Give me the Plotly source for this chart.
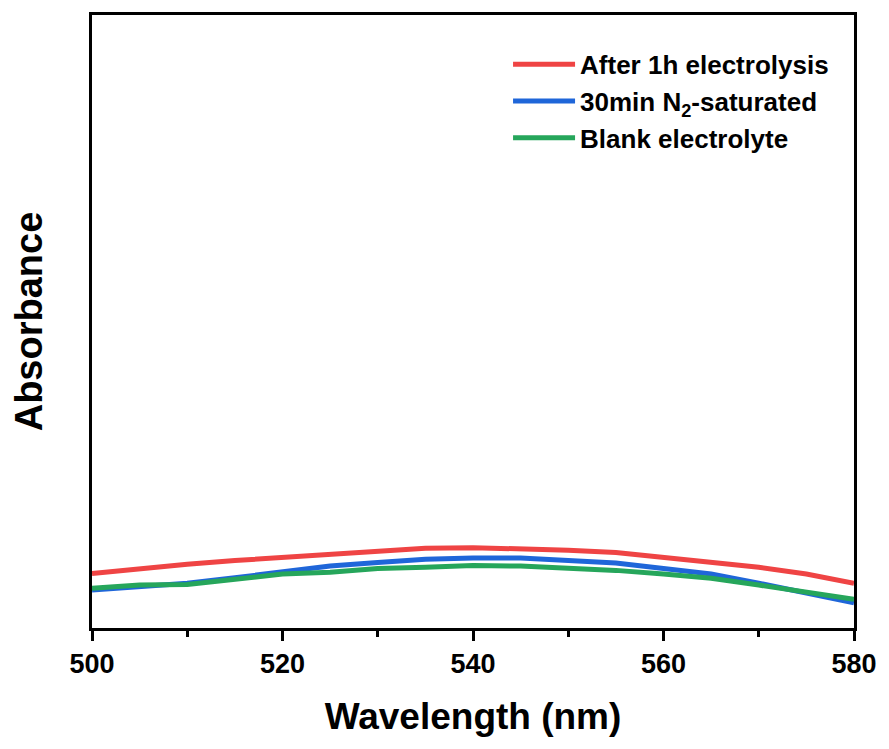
import plotly.graph_objects as go

wavelength = [500, 505, 510, 515, 520, 525, 530, 535, 540, 545, 550, 555, 560, 565, 570, 575, 580]
after_1h = [0.089, 0.097, 0.104, 0.110, 0.115, 0.122, 0.127, 0.130, 0.131, 0.130, 0.127, 0.123, 0.115, 0.109, 0.099, 0.088, 0.073]
n2_30min = [0.062, 0.067, 0.073, 0.082, 0.092, 0.101, 0.107, 0.112, 0.114, 0.114, 0.110, 0.106, 0.097, 0.088, 0.073, 0.058, 0.041]
blank = [0.065, 0.070, 0.071, 0.080, 0.088, 0.091, 0.097, 0.099, 0.102, 0.101, 0.098, 0.094, 0.088, 0.081, 0.070, 0.058, 0.047]

series = [
    ("After 1h electrolysis", after_1h, "#EF4444"),
    ("30min N<sub>2</sub>-saturated", n2_30min, "#1F66D9"),
    ("Blank electrolyte", blank, "#26A65B"),
]

fig = go.Figure()
for name, vals, col in series:
    fig.add_trace(go.Scatter(x=wavelength, y=vals, mode="lines", name=name,
                             line=dict(color=col, width=5)))

font_family = "Liberation Sans, Arial, sans-serif"
fig.update_layout(
    width=889, height=749,
    margin=dict(l=92, r=32, t=12, b=121),
    paper_bgcolor="white", plot_bgcolor="white",
    font=dict(family=font_family, color="black"),
    showlegend=True,
    legend=dict(x=0.546, y=0.958, xanchor="left", yanchor="top",
                bgcolor="rgba(0,0,0,0)", itemwidth=62,
                font=dict(size=26, family=font_family, weight="bold"),
                tracegroupgap=0),
    xaxis=dict(range=[500, 580], tickvals=[500, 520, 540, 560, 580],
               ticks="outside", ticklen=10, tickwidth=3, tickcolor="black",
               minor=dict(tickvals=[510, 530, 550, 570], ticks="outside", ticklen=6, tickwidth=3, tickcolor="black"),
               showline=True, linewidth=3, linecolor="black", mirror=True,
               showgrid=False, zeroline=False,
               tickfont=dict(size=27, family=font_family, weight="bold"),
               title=dict(text="Wavelength (nm)", font=dict(size=37, family=font_family, weight="bold"), standoff=25)),
    yaxis=dict(range=[0, 1.0], showticklabels=False, ticks="",
               showline=True, linewidth=3, linecolor="black", mirror=True,
               showgrid=False, zeroline=False,
               title=dict(text="Absorbance", font=dict(size=38, family=font_family, weight="bold"), standoff=35)),
)

fig.write_html("out.html")
